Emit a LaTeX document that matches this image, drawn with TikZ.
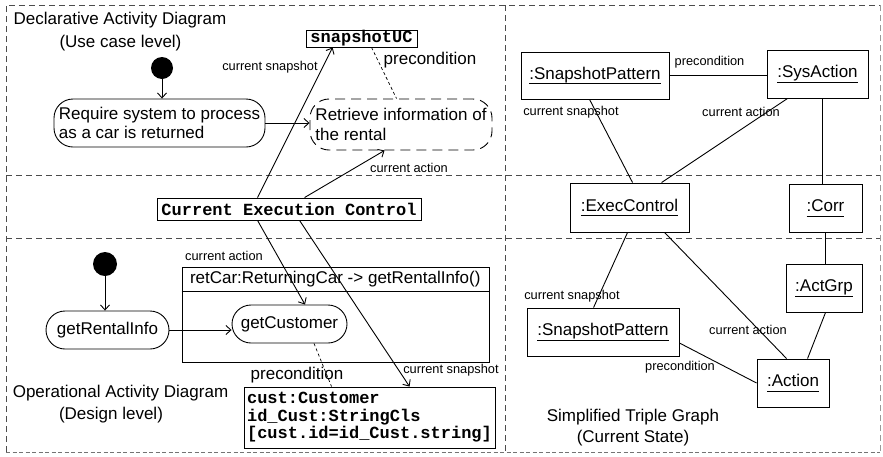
\documentclass[tikz,border=0pt]{standalone}
\usepackage{fontspec}
\setmainfont{Liberation Sans}
\newfontfamily\codefamily{Liberation Mono}
\usetikzlibrary{arrows.meta,shapes.misc}

\newcommand\mainsz{\fontsize{17}{19.5}\selectfont}
\newcommand\labsz{\fontsize{12.8}{15}\selectfont}
\newcommand\codesz{\codefamily\bfseries\fontsize{17}{17.5}\selectfont}
% object name with a fixed-offset underline
\newcommand\objname[1]{\setbox0\hbox{#1}\rlap{\rule[-5pt]{\wd0}{0.8pt}}\box0}

\begin{document}
\begin{tikzpicture}[x=1pt,y=-1pt,
  line width=0.9pt,
  every node/.style={inner sep=0pt},
  arr/.style={-{Straight Barb[length=5pt,width=9pt]}},
  region/.style={draw=black!70, line width=0.8pt, dash pattern=on 6pt off 4pt},
  prec/.style={line width=0.7pt, dash pattern=on 3pt off 2.5pt},
  actbox/.style={draw, rounded corners=19pt, font=\mainsz, align=left},
  stadium/.style={draw, rounded rectangle, font=\mainsz},
  codebox/.style={draw, font=\codesz},
  objbox/.style={draw, font=\mainsz},
  lab/.style={font=\labsz},
  title/.style={font=\mainsz},
  startnode/.style={circle, fill=black}]

\useasboundingbox (0,0) rectangle (883,456);

% panel borders
\draw[region] (6,452) -- (6,5) -- (880,5);
\draw[region, draw=black!40] (880,5) -- (880,452);
\draw[region, draw=black!55, dash pattern=on 4pt off 2.5pt] (6,452) -- (880,452);
\draw[region] (505,5) -- (505,452);
\draw[region] (6,175) -- (880,175);
\draw[region] (6,238) -- (880,238);

% ---------- declarative activity diagram ----------
\node[title] (t1a) at (120,20) {Declarative Activity Diagram};
\node[title] (t1b) at (120.5,43) {(Use case level)};
\node[startnode, minimum size=22pt] (start1) at (162,68) {};
\node[actbox, minimum width=211pt, minimum height=48pt] (req) at (159.5,123)
  {Require system to process\\as a car is returned};
\node[actbox, dash pattern=on 10pt off 6pt, minimum width=182pt, minimum height=51pt] (ret) at (401,124.5)
  {Retrieve information of\\the rental};
\node[codebox, minimum width=111pt, minimum height=17pt] (snapUC) at (361.5,38.5) {snapshotUC};

\draw[arr] (start1.south) -- (start1.south |- req.north);
\draw[arr] (req.east) -- (req.east -| ret.west);
\draw[prec] ([xshift=66pt]snapUC.south west) -- ([xshift=87pt]ret.north west);
\node[title] (lpre1) at (430,60) {precondition};

% ---------- execution control ----------
\node[codebox, minimum width=264pt, minimum height=22pt] (cec) at (289,209) {Current Execution Control};
\draw[arr] ([xshift=101pt]cec.north west) -- ([xshift=27pt]snapUC.south west);
\draw[arr] ([xshift=148pt]cec.north west) -- ([xshift=75pt]ret.south west);
\node[lab] (lcs1) at (270,67) {current snapshot};
\node[lab] (lca1) at (409,168) {current action};

% ---------- operational activity diagram ----------
\node[startnode, minimum size=24pt] (start2) at (105,264) {};
\node[stadium, minimum width=123pt, minimum height=38pt] (gri) at (107.5,330) {getRentalInfo};
\node[draw, minimum width=307pt, minimum height=95pt] (frame) at (335.5,314.5) {};
\draw ([yshift=-25pt]frame.north west) -- ([yshift=-25pt]frame.north east);
\node[title, anchor=west] (fhead) at ([xshift=8pt,yshift=-12.5pt]frame.north west)
  {retCar:ReturningCar -> getRentalInfo()};
\node[stadium, minimum width=115pt, minimum height=38pt] (gc) at (289.5,324) {getCustomer};
\node[codebox, align=left, minimum width=251pt, minimum height=61pt] (cust) at (369.5,417.5)
  {cust:Customer\\id\_Cust:StringCls\\{[}cust.id=id\_Cust.string{]}};

\draw[arr] (start2.south) -- (start2.south |- gri.north);
\draw[arr] (gri.east) -- (gri.east -| gc.west);
\draw[arr] ([xshift=101pt]cec.south west) -- ([xshift=54pt]gc.north west);
\draw[arr] ([xshift=143pt]cec.south west) -- ([xshift=166pt]cust.north west);
\draw[prec] ([xshift=63pt]gc.south west) -- ([xshift=88pt]cust.north west);
\node[lab] (lca2) at (224,256) {current action};
\node[lab] (lcs2) at (451,370) {current snapshot};
\node[title] (lpre2) at (297,375) {precondition};
\node[title] (t2a) at (120.5,393) {Operational Activity Diagram};
\node[title] (t2b) at (111,415) {(Design level)};

% ---------- simplified triple graph ----------
\node[objbox, minimum width=148pt, minimum height=47pt] (sp1) at (595,75.5) {\objname{:SnapshotPattern}};
\node[objbox, minimum width=101pt, minimum height=48pt] (sys) at (817.5,74) {\objname{:SysAction}};
\node[objbox, minimum width=119pt, minimum height=49pt] (ec) at (629.5,207.5) {\objname{:ExecControl}};
\node[objbox, minimum width=73pt, minimum height=48pt] (corr) at (825.5,208) {\objname{:Corr}};
\node[objbox, minimum width=76pt, minimum height=48pt] (actgrp) at (824,288) {\objname{:ActGrp}};
\node[objbox, minimum width=152pt, minimum height=48pt] (sp2) at (603,332) {\objname{:SnapshotPattern}};
\node[objbox, minimum width=72pt, minimum height=48pt] (action) at (793,383) {\objname{:Action}};

\draw (sp1.east) -- (sp1.east -| sys.west);
\draw ([xshift=69pt]sp1.south west) -- ([xshift=63pt]ec.north west);
\draw ([xshift=21pt]sys.south west) -- ([xshift=92pt]ec.north west);
\draw ([xshift=56pt]sys.south west) -- ([xshift=34pt]corr.north west);
\draw (corr.south) -- (corr.south |- actgrp.north);
\draw ([xshift=58pt]ec.south west) -- ([xshift=67pt]sp2.north west);
\draw ([xshift=95pt]ec.south west) -- ([xshift=30pt]action.north west);
\draw ([xshift=40pt]actgrp.south west) -- ([xshift=51pt]action.north west);
\draw ([yshift=-11pt]sp2.east) -- (action.west);

\node[lab] (rpre1) at (709.5,62) {precondition};
\node[lab] (rcs1) at (571,112) {current snapshot};
\node[lab] (rca1) at (741,112) {current action};
\node[lab] (rcs2) at (572,296) {current snapshot};
\node[lab] (rca2) at (748,330) {current action};
\node[lab] (rpre2) at (680,367) {precondition};
\node[title] (t3a) at (633,417) {Simplified Triple Graph};
\node[title] (t3b) at (633,438) {(Current State)};
\end{tikzpicture}
\end{document}
